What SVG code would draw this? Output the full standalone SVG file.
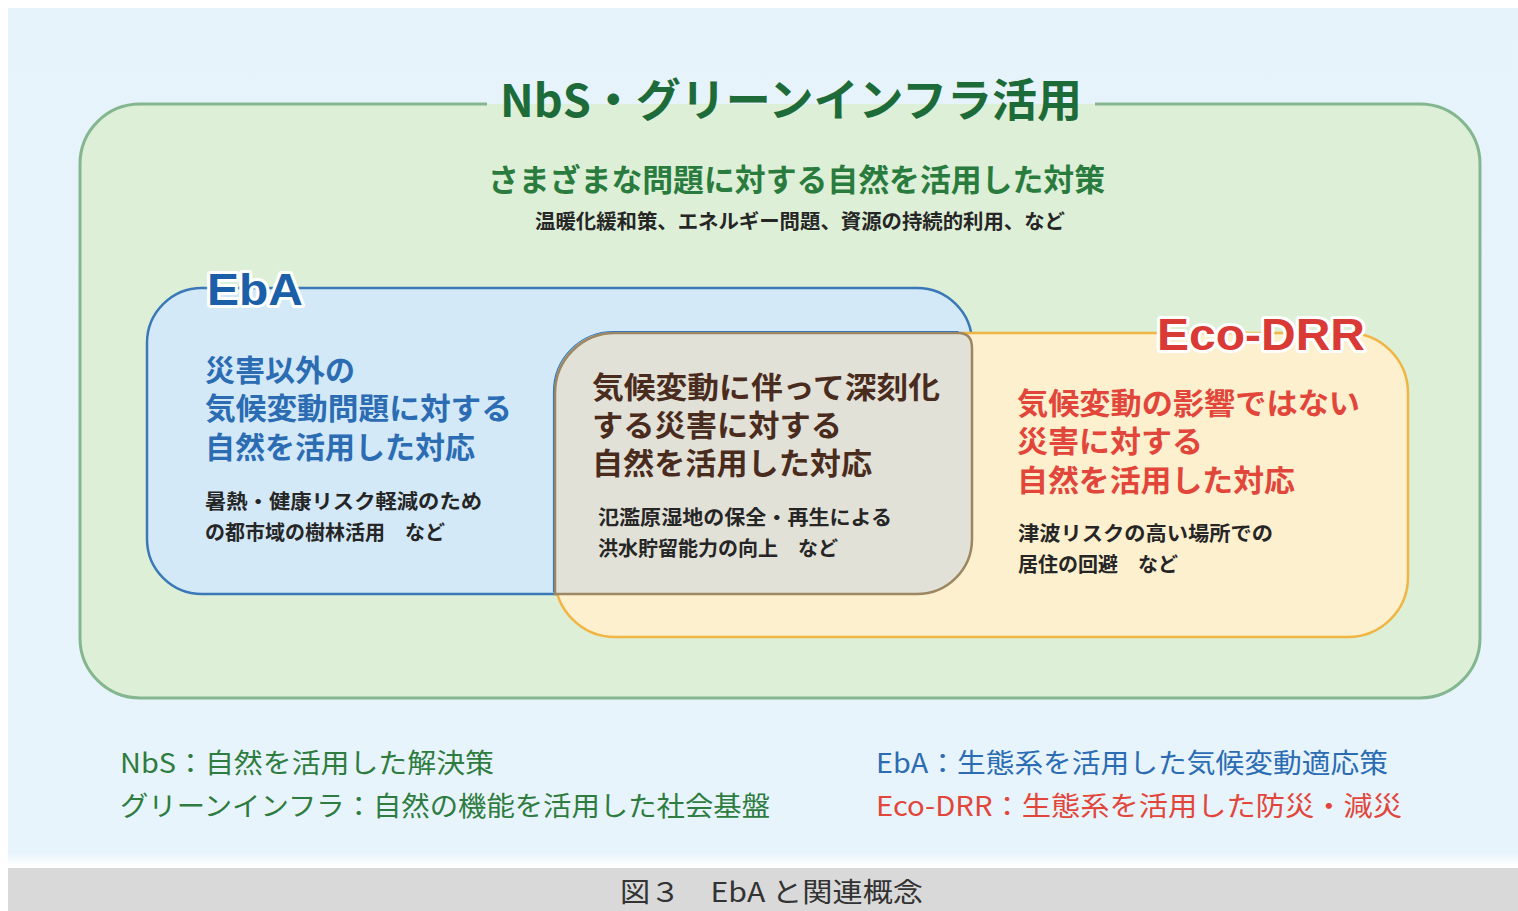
<svg xmlns="http://www.w3.org/2000/svg" width="1518" height="911" viewBox="0 0 1518 911">
<defs>
<style>
.jp{font-family:"Noto Sans CJK JP","Liberation Sans",sans-serif;}
.lat{font-family:"Liberation Sans","Noto Sans CJK JP",sans-serif;}
.b{font-weight:bold;}
.halo{stroke:#ffffff;stroke-width:6;stroke-linejoin:round;paint-order:stroke;}
.small{font-size:20px;fill:#262626;font-weight:bold;}
.headE{font-size:30px;fill:#2b6cb3;font-weight:bold;}
.headM{font-size:30px;fill:#4a2c1e;font-weight:bold;}
.headR{font-size:30px;fill:#e2463b;font-weight:bold;}
</style>
<linearGradient id="panelFade" x1="0" y1="0" x2="0" y2="1">
<stop offset="0" stop-color="#e6f3fa"/>
<stop offset="0.985" stop-color="#e8f4fb"/>
<stop offset="1" stop-color="#ffffff"/>
</linearGradient>
</defs>
<rect x="0" y="0" width="1518" height="911" fill="#ffffff"/>
<rect x="8" y="8" width="1510" height="858" fill="url(#panelFade)"/>
<rect x="8" y="868" width="1510" height="43" fill="#d9d9d9"/>

<g id="nbs">
<rect x="80" y="104" width="1400" height="594" rx="60" fill="#ddefd6"/>
<path d="M487,104 L140,104 A60,60 0 0 0 80,164 L80,638 A60,60 0 0 0 140,698 L1420,698 A60,60 0 0 0 1480,638 L1480,164 A60,60 0 0 0 1420,104 L1095,104" fill="none" stroke="#84b78f" stroke-width="3"/>
<text x="500" y="117" class="jp b" font-size="45" fill="#1d6b38" textLength="582" lengthAdjust="spacingAndGlyphs">NbS・グリーンインフラ活用</text>
<text x="488" y="191" class="jp b" font-size="31" fill="#2a7b3e" textLength="617" lengthAdjust="spacingAndGlyphs">さまざまな問題に対する自然を活用した対策</text>
<text x="535" y="229" class="jp b" font-size="20" fill="#262626" textLength="530" lengthAdjust="spacingAndGlyphs">温暖化緩和策、エネルギー問題、資源の持続的利用、など</text>
</g>

<g id="eba">
<rect x="147" y="288" width="825" height="306" rx="55" fill="#d3e9f8" stroke="#3a78b8" stroke-width="2.5"/>
</g>

<g id="ecodrr">
<rect x="555" y="333" width="853" height="304" rx="60" fill="#fdf0cf" stroke="#f0b543" stroke-width="2.5"/>
</g>

<g id="overlap">
<path d="M555,393 A60,60 0 0 1 615,333 L960,333 Q972,334 972,348 L972,539 A55,55 0 0 1 917,594 L555,594 Z" fill="#e2e1d8" stroke="#9c8762" stroke-width="2.5"/>
<path d="M555,594 L555,393 A60,60 0 0 1 615,333 L960,333" fill="none" stroke="#3a78b8" stroke-width="1.2" transform="translate(-1.5,-1.5)"/>
<text class="jp headM"><tspan x="592" y="398" textLength="348" lengthAdjust="spacingAndGlyphs">気候変動に伴って深刻化</tspan><tspan x="592" y="436" textLength="250" lengthAdjust="spacingAndGlyphs">する災害に対する</tspan><tspan x="592" y="474" textLength="280" lengthAdjust="spacingAndGlyphs">自然を活用した対応</tspan></text>
<text class="jp small"><tspan x="598" y="525" textLength="294" lengthAdjust="spacingAndGlyphs">氾濫原湿地の保全・再生による</tspan><tspan x="598" y="556">洪水貯留能力の向上　など</tspan></text>
</g>

<g id="eba-text">
<text x="207" y="305" class="lat b halo" font-size="45" fill="#1b5fa8" textLength="96" lengthAdjust="spacingAndGlyphs">EbA</text>
<text class="jp headE"><tspan x="205" y="381">災害以外の</tspan><tspan x="205" y="419" textLength="307" lengthAdjust="spacingAndGlyphs">気候変動問題に対する</tspan><tspan x="205" y="458">自然を活用した対応</tspan></text>
<text class="jp small"><tspan x="205" y="509" textLength="277" lengthAdjust="spacingAndGlyphs">暑熱・健康リスク軽減のため</tspan><tspan x="205" y="540">の都市域の樹林活用　など</tspan></text>
</g>

<g id="ecodrr-text">
<text x="1157" y="350" class="lat b halo" font-size="45" fill="#d93a35" textLength="208" lengthAdjust="spacingAndGlyphs">Eco-DRR</text>
<text class="jp headR"><tspan x="1017" y="414" textLength="343" lengthAdjust="spacingAndGlyphs">気候変動の影響ではない</tspan><tspan x="1017" y="452" textLength="186" lengthAdjust="spacingAndGlyphs">災害に対する</tspan><tspan x="1017" y="491" textLength="278" lengthAdjust="spacingAndGlyphs">自然を活用した対応</tspan></text>
<text class="jp small"><tspan x="1018" y="541" textLength="255" lengthAdjust="spacingAndGlyphs">津波リスクの高い場所での</tspan><tspan x="1018" y="572">居住の回避　など</tspan></text>
</g>

<g id="legend">
<text class="jp" x="120" y="773" font-size="27" fill="#2e7c3f" textLength="374" lengthAdjust="spacingAndGlyphs">NbS：自然を活用した解決策</text>
<text class="jp" x="120" y="816" font-size="27" fill="#2e7c3f" textLength="650" lengthAdjust="spacingAndGlyphs">グリーンインフラ：自然の機能を活用した社会基盤</text>
<text class="jp" x="876" y="773" font-size="27" fill="#2b6cb3" textLength="512" lengthAdjust="spacingAndGlyphs">EbA：生態系を活用した気候変動適応策</text>
<text class="jp" x="876" y="816" font-size="27" fill="#e2463b" textLength="526" lengthAdjust="spacingAndGlyphs">Eco-DRR：生態系を活用した防災・減災</text>
</g>

<g id="caption">
<text class="jp" x="620" y="902" font-size="27" fill="#333333" textLength="303" lengthAdjust="spacingAndGlyphs">図３　EbA と関連概念</text>
</g>
<g id="connectors"></g>
</svg>
